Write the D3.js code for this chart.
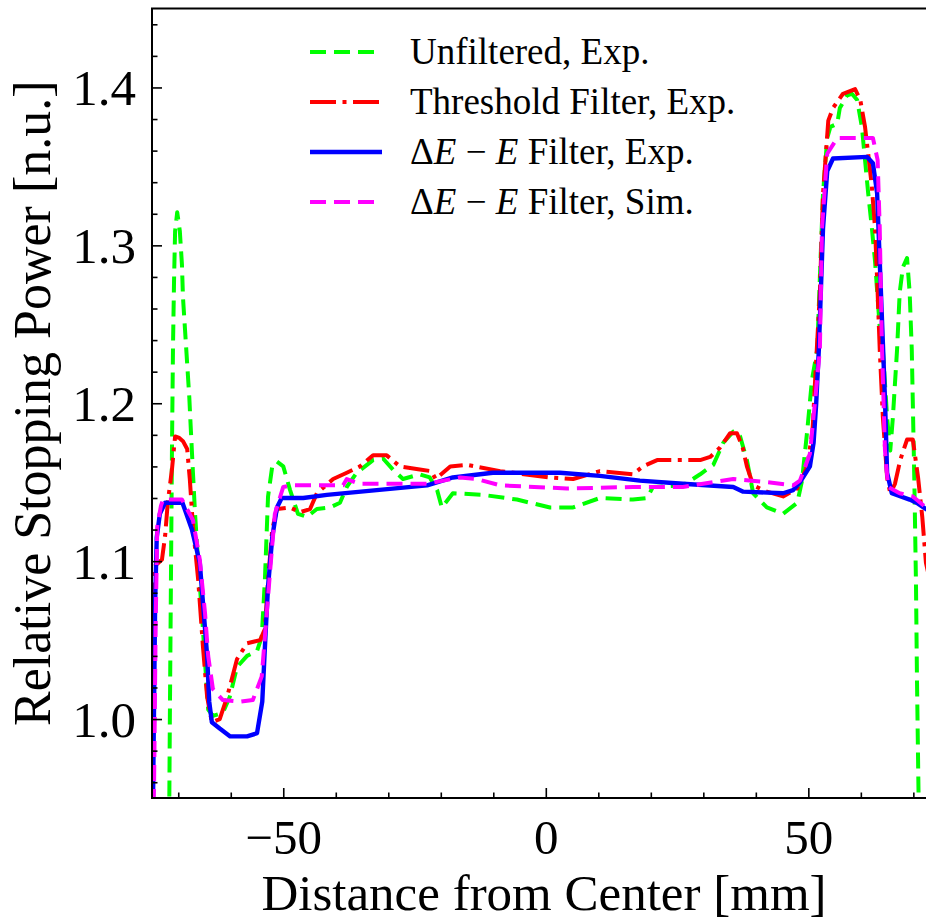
<!DOCTYPE html>
<html>
<head>
<meta charset="utf-8">
<script src="https://cdn.jsdelivr.net/npm/d3@7"></script>
<style>
body { margin: 0; background: #fff; }
svg text { font-family: "Liberation Serif", "Times New Roman", serif; fill: #000; }
</style>
</head>
<body>
<div id="chart"></div>
<script>
// values: [distance mm, relative stopping power]
var unfiltered = [[-75, 0.80], [-71.9, 0.85], [-71.6, 1.0], [-71.2, 1.17], [-71.0, 1.236], [-70.8, 1.278], [-70.6, 1.309], [-70.2, 1.321], [-69.7, 1.309], [-69.3, 1.288], [-69.1, 1.267], [-68.7, 1.246], [-68.3, 1.225], [-67.9, 1.204], [-67.6, 1.183], [-67.2, 1.156], [-66.8, 1.13], [-66.2, 1.099], [-65.5, 1.067], [-64.9, 1.036], [-64.3, 1.006], [-63.4, 1.002], [-61.5, 1.004], [-60.2, 1.014], [-58.8, 1.033], [-56.9, 1.04], [-55.0, 1.043], [-54.1, 1.052], [-53.5, 1.088], [-52.9, 1.141], [-52.1, 1.16], [-51.2, 1.163], [-50.0, 1.16], [-48.7, 1.145], [-47.2, 1.13], [-45.5, 1.128], [-43.6, 1.133], [-41.1, 1.134], [-39.2, 1.137], [-37.9, 1.147], [-36.0, 1.156], [-32.9, 1.164], [-31.0, 1.165], [-29.1, 1.158], [-27.2, 1.152], [-24.0, 1.155], [-22.1, 1.153], [-20.7, 1.145], [-19.8, 1.134], [-17.7, 1.143], [-12.0, 1.142], [-5.5, 1.139], [0.8, 1.134], [5.2, 1.134], [10.3, 1.14], [16.6, 1.139], [19.3, 1.14], [20.4, 1.147], [26.1, 1.148], [29.4, 1.155], [31.9, 1.161], [33.8, 1.175], [35.7, 1.182], [37.0, 1.179], [38.3, 1.164], [39.5, 1.143], [42.1, 1.134], [45.2, 1.13], [47.9, 1.137], [48.8, 1.151], [49.8, 1.183], [50.7, 1.215], [51.7, 1.234], [52.2, 1.28], [52.8, 1.333], [53.6, 1.368], [54.2, 1.375], [55.5, 1.377], [56.0, 1.387], [57.4, 1.395], [58.3, 1.396], [59.3, 1.392], [60.2, 1.375], [60.8, 1.354], [61.4, 1.333], [62.1, 1.311], [62.7, 1.29], [63.6, 1.248], [64.2, 1.234], [65.0, 1.191], [65.6, 1.17], [66.1, 1.191], [66.9, 1.234], [67.4, 1.27], [68.0, 1.286], [68.8, 1.292], [69.3, 1.27], [69.7, 1.234], [70.2, 1.149], [70.5, 1.086], [70.7, 1.023], [71.0, 0.95], [71.5, 0.85], [75, 0.80]];

var threshold = [[-75, 1.07], [-74.8, 1.095], [-74.4, 1.097], [-73.1, 1.101], [-72.5, 1.116], [-72.0, 1.137], [-71.2, 1.158], [-70.6, 1.179], [-69.8, 1.178], [-69.1, 1.176], [-68.3, 1.171], [-67.8, 1.152], [-67.2, 1.122], [-66.2, 1.088], [-65.3, 1.046], [-64.5, 1.014], [-63.6, 0.998], [-62.1, 1.0], [-60.7, 1.014], [-58.8, 1.038], [-56.9, 1.048], [-54.4, 1.05], [-53.5, 1.057], [-52.9, 1.088], [-52.1, 1.12], [-51.2, 1.133], [-48.7, 1.134], [-46.8, 1.131], [-44.9, 1.133], [-43.6, 1.143], [-40.5, 1.152], [-37.9, 1.156], [-35.4, 1.160], [-32.9, 1.167], [-30.3, 1.167], [-27.8, 1.16], [-24.0, 1.158], [-21.8, 1.157], [-21.0, 1.152], [-18.2, 1.160], [-15.0, 1.161], [-8.7, 1.157], [0.8, 1.153], [5.2, 1.152], [10.3, 1.157], [16.6, 1.155], [18.5, 1.160], [21.2, 1.164], [29.4, 1.164], [31.3, 1.166], [33.2, 1.172], [35.1, 1.181], [36.4, 1.181], [37.5, 1.172], [38.3, 1.160], [39.5, 1.148], [42.1, 1.144], [45.2, 1.141], [47.9, 1.146], [49.8, 1.16], [50.8, 1.183], [51.3, 1.215], [52.2, 1.27], [52.8, 1.333], [53.8, 1.379], [54.7, 1.387], [56.6, 1.396], [58.9, 1.399], [59.9, 1.392], [60.8, 1.375], [61.4, 1.358], [62.1, 1.337], [62.7, 1.311], [63.2, 1.27], [63.6, 1.234], [64.2, 1.191], [65.0, 1.153], [65.6, 1.143], [66.5, 1.149], [67.5, 1.164], [68.8, 1.177], [69.9, 1.177], [70.9, 1.153], [71.7, 1.128], [72.4, 1.099], [75, 1.06]];

var deltaExp = [[-75.0, 0.92], [-74.8, 0.95], [-74.4, 1.074], [-74.1, 1.115], [-73.5, 1.13], [-72.5, 1.137], [-69.2, 1.137], [-67.4, 1.12], [-65.9, 1.099], [-65.3, 1.074], [-64.5, 1.04], [-64.1, 1.011], [-63.6, 0.998], [-62.1, 0.994], [-60.1, 0.989], [-56.9, 0.989], [-55.0, 0.991], [-54.0, 1.011], [-53.4, 1.052], [-52.9, 1.084], [-52.1, 1.115], [-51.2, 1.134], [-50.3, 1.140], [-46.2, 1.140], [-41.7, 1.142], [-32.2, 1.145], [-22.6, 1.148], [-17.7, 1.153], [-10.1, 1.156], [-2.4, 1.156], [2.7, 1.156], [10.3, 1.154], [17.9, 1.151], [26.1, 1.149], [35.7, 1.147], [37.6, 1.144], [45.2, 1.143], [47.1, 1.145], [48.4, 1.150], [50.3, 1.160], [51.0, 1.175], [51.5, 1.20], [52.0, 1.234], [52.8, 1.311], [53.6, 1.347], [54.7, 1.355], [61.2, 1.356], [62.3, 1.352], [63.1, 1.333], [63.6, 1.29], [64.2, 1.238], [64.6, 1.202], [65.0, 1.156], [65.9, 1.143], [69.3, 1.139], [70.6, 1.137], [72.4, 1.133], [75, 1.128]];

var deltaSim = [[-75.0, 0.90], [-74.6, 0.96], [-74.3, 1.06], [-74.0, 1.122], [-73.3, 1.135], [-72.9, 1.139], [-69.3, 1.139], [-67.2, 1.126], [-65.9, 1.101], [-64.9, 1.067], [-64.3, 1.04], [-63.4, 1.019], [-61.5, 1.012], [-58.2, 1.011], [-55.8, 1.012], [-54.1, 1.027], [-53.5, 1.052], [-52.5, 1.094], [-51.6, 1.130], [-50.0, 1.147], [-48.2, 1.148], [-38.6, 1.148], [-37.9, 1.152], [-35.5, 1.149], [-29.1, 1.149], [-22.6, 1.149], [-16.3, 1.153], [-13.1, 1.152], [-8.7, 1.148], [4.0, 1.146], [16.6, 1.147], [26.1, 1.147], [35.7, 1.152], [42.1, 1.150], [47.1, 1.148], [48.4, 1.151], [50.3, 1.168], [51.3, 1.202], [52.2, 1.234], [52.6, 1.311], [53.6, 1.358], [55.5, 1.368], [62.3, 1.368], [63.2, 1.354], [63.6, 1.311], [64.0, 1.238], [64.6, 1.17], [65.2, 1.147], [67.4, 1.143], [69.9, 1.141], [72.4, 1.134], [75, 1.128]];

var seriesNames = ["Unfiltered, Exp.", "Threshold Filter, Exp.", "Filter, Exp.", "Filter, Sim."];
var seriesColors = ["#00ff00", "#ff0000", "#0000ff", "#ff00ff"];
var seriesDash = ["16,8", "26,6.5,4,6.5", null, "16,8"];
var xMajor = [-50, 0, 50];
var yMajor = [1.0, 1.1, 1.2, 1.3, 1.4];

var width = 926, height = 922;
var svg = d3.select("#chart").append("svg")
	.attr("width", width)
	.attr("height", height);

var x = d3.scaleLinear().domain([-75, 75]).range([152, 939.6]);
var y = d3.scaleLinear().domain([0.95, 1.45]).range([798, 8.5]);

svg.append("clipPath").attr("id", "clip")
	.append("rect")
	.attr("x", x(-75)).attr("y", y(1.45))
	.attr("width", x(75) - x(-75)).attr("height", y(0.95) - y(1.45));

var line = d3.line()
	.x(function(d) { return x(d[0]); })
	.y(function(d) { return y(d[1]); })
	.curve(d3.curveLinear);

var allSeries = [unfiltered, threshold, deltaExp, deltaSim];
var plot = svg.append("g").attr("clip-path", "url(#clip)");
allSeries.forEach(function(s, i) {
	plot.append("path")
		.datum(s)
		.attr("fill", "none")
		.attr("stroke", seriesColors[i])
		.attr("stroke-width", i == 2 ? 4.4 : 4)
		.attr("stroke-linejoin", "round")
		.attr("stroke-dasharray", seriesDash[i])
		.attr("d", line);
});

// minor ticks
var xMinor = d3.range(-70, 80, 10).filter(function(v) { return xMajor.indexOf(v) < 0; });
var yMinor = d3.range(0.96, 1.45, 0.02).filter(function(v) {
	return yMajor.every(function(m) { return Math.abs(m - v) > 1e-6; });
});

svg.append("g")
	.attr("transform", "translate(0," + y(0.95) + ")")
	.call(d3.axisBottom(x).tickValues(xMinor).tickSize(-5.5).tickFormat(""))
	.call(function(g) { g.select(".domain").remove(); });
svg.append("g")
	.attr("transform", "translate(" + x(-75) + ",0)")
	.call(d3.axisLeft(y).tickValues(yMinor).tickSize(-5.5).tickFormat(""))
	.call(function(g) { g.select(".domain").remove(); });

var xAxis = svg.append("g")
	.attr("transform", "translate(0," + y(0.95) + ")")
	.call(d3.axisBottom(x).tickValues(xMajor).tickSize(-10).tickPadding(0).tickFormat(d3.format("d")));
xAxis.select(".domain").remove();
xAxis.selectAll("text").attr("font-size", 49).attr("dy", null).attr("y", 56);

var yAxis = svg.append("g")
	.attr("transform", "translate(" + x(-75) + ",0)")
	.call(d3.axisLeft(y).tickValues(yMajor).tickSize(-10).tickPadding(16).tickFormat(d3.format(".1f")));
yAxis.select(".domain").remove();
yAxis.selectAll("text").attr("font-size", 51).attr("dy", "0.34em");

svg.selectAll(".tick line").attr("stroke", "#000").attr("stroke-width", 1.6);

// spines
svg.append("rect")
	.attr("x", x(-75)).attr("y", y(1.45))
	.attr("width", x(75) - x(-75)).attr("height", y(0.95) - y(1.45))
	.attr("fill", "none")
	.attr("stroke", "#000")
	.attr("stroke-width", 2);

// axis titles
svg.append("text")
	.attr("x", 544)
	.attr("y", 910)
	.attr("text-anchor", "middle")
	.attr("font-size", 51)
	.text("Distance from Center [mm]");

svg.append("text")
	.attr("transform", "translate(50," + ((y(0.95) + y(1.45)) / 2) + ") rotate(-90)")
	.attr("text-anchor", "middle")
	.attr("font-size", 52)
	.text("Relative Stopping Power [n.u.]");

// legend
var legendY = [52, 102, 152, 202];
var legend = svg.append("g");
seriesNames.forEach(function(name, i) {
	legend.append("line")
		.attr("x1", 310).attr("x2", 382)
		.attr("y1", legendY[i]).attr("y2", legendY[i])
		.attr("stroke", seriesColors[i])
		.attr("stroke-width", i == 2 ? 4.4 : 4)
		.attr("stroke-dasharray", seriesDash[i]);
	var t = legend.append("text")
		.attr("x", 410)
		.attr("y", legendY[i] + 12)
		.attr("font-size", 37);
	if (i >= 2) {
		t.append("tspan").text("\u0394");
		t.append("tspan").attr("font-style", "italic").text("E");
		t.append("tspan").text(" \u2212 ");
		t.append("tspan").attr("font-style", "italic").text("E");
		t.append("tspan").text(" " + name);
	} else {
		t.text(name);
	}
});
</script>
</body>
</html>
